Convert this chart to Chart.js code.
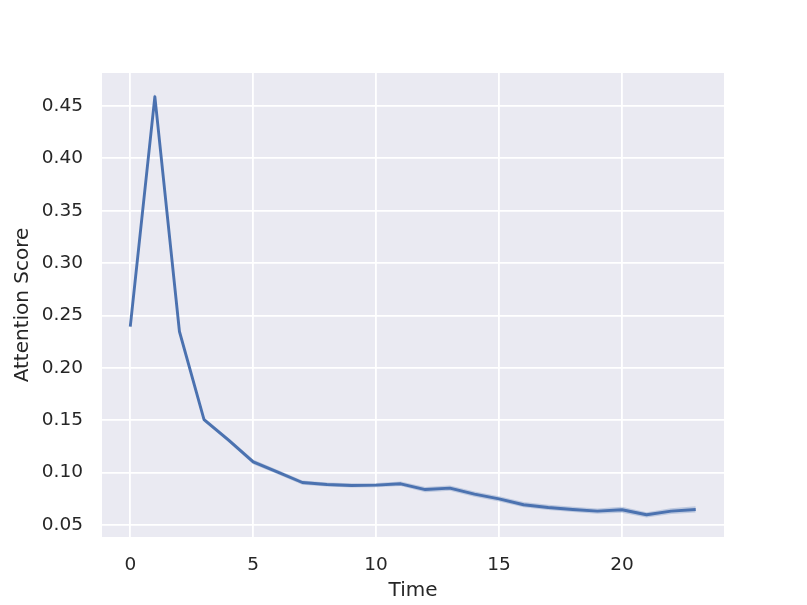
<!DOCTYPE html>
<html>
<head>
<meta charset="utf-8">
<script src="https://cdn.jsdelivr.net/npm/chart.js@4"></script>
<style>
html,body{margin:0;padding:0;background:#fff;}
#wrap{width:807px;height:605px;}
</style>
</head>
<body>
<div id="wrap"><canvas id="c" width="807" height="605"></canvas></div>
<script>
const timeSteps = [0,1,2,3,4,5,6,7,8,9,10,11,12,13,14,15,16,17,18,19,20,21,22,23];
const meanScore = [0.2394,0.4589,0.2347,0.1505,0.1310,0.1102,0.1004,0.0905,0.0886,0.0877,0.0880,0.0893,0.0838,0.0852,0.0795,0.0749,0.0693,0.0667,0.0648,0.0632,0.0645,0.0597,0.0632,0.0648];
const bandHalf = [0.0030,0.0035,0.0020,0.0020,0.0020,0.0022,0.0020,0.0020,0.0020,0.0020,0.0020,0.0022,0.0025,0.0025,0.0025,0.0025,0.0025,0.0025,0.0025,0.0025,0.0028,0.0025,0.0028,0.0030];
const xTicks = [0,5,10,15,20];
const yTicks = [0.05,0.10,0.15,0.20,0.25,0.30,0.35,0.40,0.45];

const upper = timeSteps.map((t,i)=>({x:t,y:meanScore[i]+bandHalf[i]}));
const lower = timeSteps.map((t,i)=>({x:t,y:meanScore[i]-bandHalf[i]}));
const mean = timeSteps.map((t,i)=>({x:t,y:meanScore[i]}));

const bgPlugin = {
  id:'plotBg',
  beforeDraw(chart){
    const {ctx, chartArea:a} = chart;
    ctx.save();
    ctx.fillStyle='#EAEAF2';
    ctx.fillRect(a.left,a.top,a.right-a.left,a.bottom-a.top);
    ctx.restore();
  }
};

const tickColor = '#262626';
new Chart(document.getElementById('c'), {
  type:'line',
  data:{datasets:[
    {data:upper, borderWidth:0, pointRadius:0, backgroundColor:'rgba(76,114,176,0.28)', fill:'+1', tension:0},
    {data:lower, borderWidth:0, pointRadius:0, backgroundColor:'rgba(76,114,176,0.28)', fill:false, tension:0},
    {data:mean, borderColor:'#4C72B0', borderWidth:2.9, pointRadius:0, fill:false, tension:0, borderJoinStyle:'round', borderCapStyle:'butt'}
  ]},
  options:{
    responsive:false,
    animation:false,
    layout:{padding:{left:0,right:83,top:73,bottom:0}},
    plugins:{legend:{display:false},tooltip:{enabled:false}},
    scales:{
      x:{
        type:'linear', min:-1.15, max:24.15,
        border:{display:false},
        grid:{color:'#ffffff', lineWidth:1.8, drawTicks:false},
        afterBuildTicks(s){ s.ticks = xTicks.map(v=>({value:v})); },
        afterFit(s){ s.height = 68; },
        ticks:{color:tickColor, padding:17, font:{family:'DejaVu Sans', size:18.5}, callback:v=>String(v), maxRotation:0},
        title:{display:true, text:'Time', color:tickColor, font:{family:'DejaVu Sans', size:20}, padding:{top:0,bottom:2}}
      },
      y:{
        type:'linear', min:0.0385, max:0.4815,
        border:{display:false},
        grid:{color:'#ffffff', lineWidth:1.8, drawTicks:false},
        afterBuildTicks(s){ s.ticks = yTicks.map(v=>({value:v})); },
        afterFit(s){ s.width = 102; },
        ticks:{color:tickColor, padding:19, font:{family:'DejaVu Sans', size:18.5}, callback:v=>v.toFixed(2)},
        title:{display:true, text:'Attention Score', color:tickColor, font:{family:'DejaVu Sans', size:20}, padding:{top:11,bottom:0}}
      }
    }
  },
  plugins:[bgPlugin]
});
</script>
</body>
</html>
